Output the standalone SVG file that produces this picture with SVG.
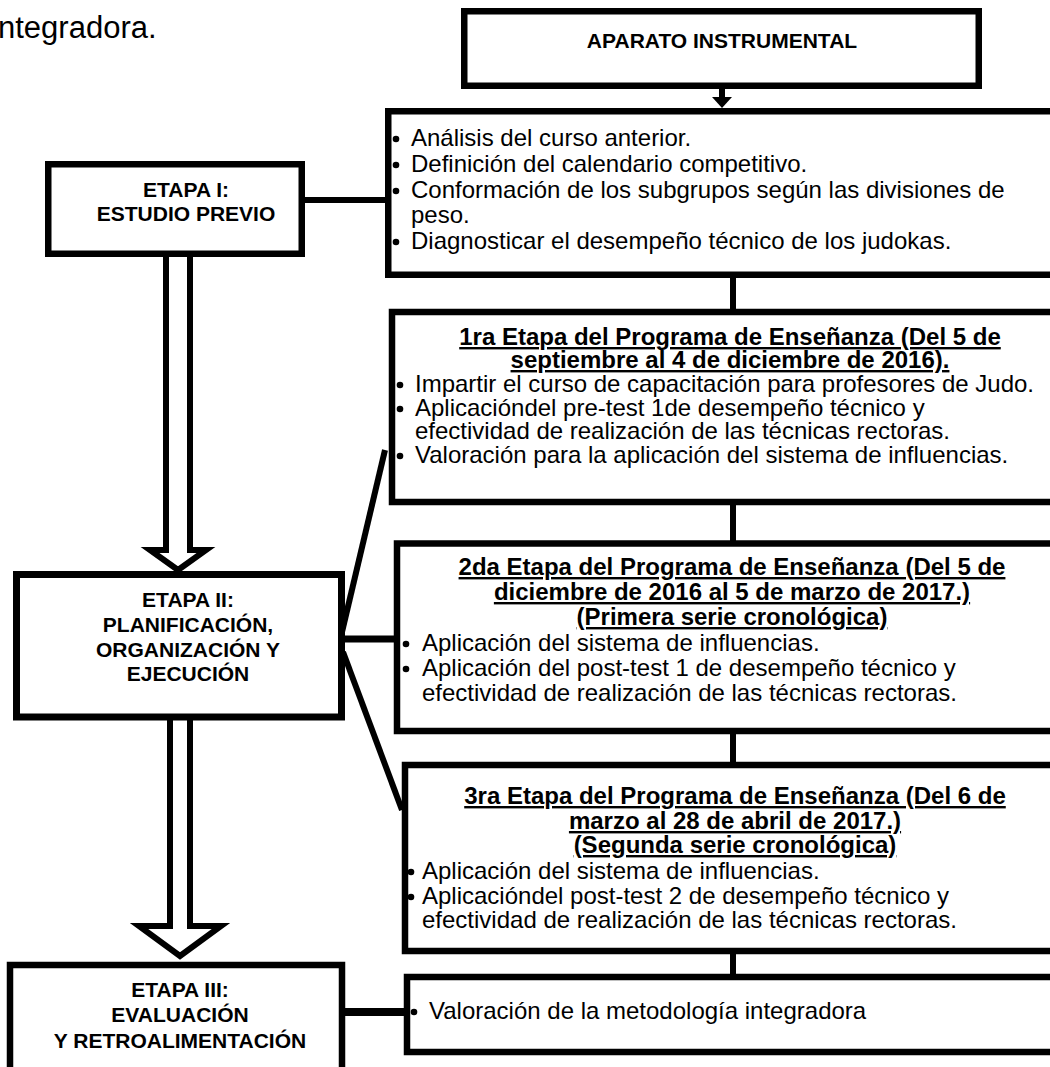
<svg xmlns="http://www.w3.org/2000/svg" width="1050" height="1067" viewBox="0 0 1050 1067">
<style>
text{font-family:"Liberation Sans",Arial,sans-serif;fill:#000}
.box{fill:#fff;stroke:#000;stroke-width:6.5}
.lbl{font-size:21px;font-weight:bold;text-anchor:middle}
.t{font-size:24px}
.h{font-size:24px;font-weight:bold;text-anchor:middle;text-decoration:underline}
.c{stroke:#000;stroke-width:6;fill:none}
.hollow{stroke:#000;stroke-width:6;fill:#fff;stroke-linejoin:miter}
.dot{fill:#000}
</style>
<text x="-2" y="38" style="font-size:31px">ntegradora.</text>
<g id="connectors">
<line class="c" x1="722" y1="89" x2="722" y2="99"/>
<polygon points="712,97 732,97 722,108" fill="#000"/>
<line class="c" x1="305" y1="200" x2="390" y2="200"/>
<line class="c" x1="733" y1="277" x2="733" y2="310"/>
<line class="c" x1="733" y1="505" x2="733" y2="541"/>
<line class="c" x1="733" y1="734" x2="733" y2="763"/>
<line class="c" x1="733" y1="954" x2="733" y2="975"/>
<path class="hollow" d="M166,257 V550 H150 L178,570 L206,550 H190 V257"/>
<path class="hollow" d="M170,720 V926 H139 L180,956 L221,926 H190 V720"/>
<line class="c" x1="342" y1="632" x2="385" y2="450"/>
<line class="c" x1="344" y1="639" x2="398" y2="639" style="stroke-width:7"/>
<line class="c" x1="343" y1="652" x2="402" y2="810"/>
<line class="c" x1="342" y1="1012" x2="408" y2="1012" style="stroke-width:8"/>
</g>
<g id="aparato">
<rect class="box" x="464.25" y="11.25" width="514.5" height="74.5"/>
<text class="lbl" x="722" y="48">APARATO INSTRUMENTAL</text>
</g>
<g id="etapa1">
<rect class="box" x="48.25" y="164.25" width="253.5" height="89.5"/>
<text class="lbl" x="186" y="197">ETAPA I:</text>
<text class="lbl" x="186" y="221">ESTUDIO PREVIO</text>
</g>
<g id="estudio">
<rect class="box" x="388.25" y="111.25" width="700" height="163.5"/>
<circle class="dot" cx="396" cy="139" r="3.3"/>
<circle class="dot" cx="396" cy="165" r="3.3"/>
<circle class="dot" cx="396" cy="191" r="3.3"/>
<circle class="dot" cx="396" cy="242" r="3.3"/>
<text class="t" x="411" y="146">Análisis del curso anterior.</text>
<text class="t" x="411" y="172">Definición del calendario competitivo.</text>
<text class="t" x="411" y="198">Conformación de los subgrupos según las divisiones de</text>
<text class="t" x="411" y="223">peso.</text>
<text class="t" x="411" y="249">Diagnosticar el desempeño técnico de los judokas.</text>
</g>
<g id="etapa2">
<rect x="16.5" y="574.5" width="325" height="142.5" style="fill:#fff;stroke:#000;stroke-width:7"/>
<text class="lbl" x="188" y="607">ETAPA II:</text>
<text class="lbl" x="188" y="632">PLANIFICACIÓN,</text>
<text class="lbl" x="188" y="657">ORGANIZACIÓN Y</text>
<text class="lbl" x="188" y="681">EJECUCIÓN</text>
</g>
<g id="prog1">
<rect class="box" x="392" y="312" width="700" height="190"/>
<text class="h" x="730" y="345">1ra Etapa del Programa de Enseñanza (Del 5 de</text>
<text class="h" x="730" y="368">septiembre al 4 de diciembre de 2016).</text>
<circle class="dot" cx="400" cy="385" r="3.3"/>
<circle class="dot" cx="400" cy="409" r="3.3"/>
<circle class="dot" cx="400" cy="456" r="3.3"/>
<text class="t" x="415" y="392">Impartir el curso de capacitación para profesores de Judo.</text>
<text class="t" x="415" y="416">Aplicacióndel pre-test 1de desempeño técnico y</text>
<text class="t" x="415" y="439">efectividad de realización de las técnicas rectoras.</text>
<text class="t" x="415" y="463">Valoración para la aplicación del sistema de influencias.</text>
</g>
<g id="prog2">
<rect class="box" x="397" y="543.5" width="700" height="187.5"/>
<text class="h" x="732" y="575">2da Etapa del Programa de Enseñanza (Del 5 de</text>
<text class="h" x="732" y="600">diciembre de 2016 al 5 de marzo de 2017.)</text>
<text class="h" x="732" y="625">(Primera serie cronológica)</text>
<circle class="dot" cx="406" cy="644" r="3.3"/>
<circle class="dot" cx="406" cy="669" r="3.3"/>
<text class="t" x="422" y="651">Aplicación del sistema de influencias.</text>
<text class="t" x="422" y="676">Aplicación del post-test 1 de desempeño técnico y</text>
<text class="t" x="422" y="701">efectividad de realización de las técnicas rectoras.</text>
</g>
<g id="prog3">
<rect class="box" x="405" y="765" width="700" height="186"/>
<text class="h" x="735" y="804">3ra Etapa del Programa de Enseñanza (Del 6 de</text>
<text class="h" x="735" y="829">marzo al 28 de abril de 2017.)</text>
<text class="h" x="735" y="853">(Segunda serie cronológica)</text>
<circle class="dot" cx="411" cy="872" r="3.3"/>
<circle class="dot" cx="411" cy="897" r="3.3"/>
<text class="t" x="422" y="879">Aplicación del sistema de influencias.</text>
<text class="t" x="422" y="904">Aplicacióndel post-test 2 de desempeño técnico y</text>
<text class="t" x="422" y="928">efectividad de realización de las técnicas rectoras.</text>
</g>
<g id="etapa3">
<rect class="box" x="10" y="965" width="332" height="150"/>
<text class="lbl" x="180" y="997">ETAPA III:</text>
<text class="lbl" x="180" y="1022">EVALUACIÓN</text>
<text class="lbl" x="180" y="1048">Y RETROALIMENTACIÓN</text>
</g>
<g id="valoracion">
<rect class="box" x="407" y="977" width="700" height="75"/>
<circle class="dot" cx="414" cy="1012" r="3.3"/>
<text class="t" x="429" y="1019">Valoración de la metodología integradora</text>
</g>
</svg>
